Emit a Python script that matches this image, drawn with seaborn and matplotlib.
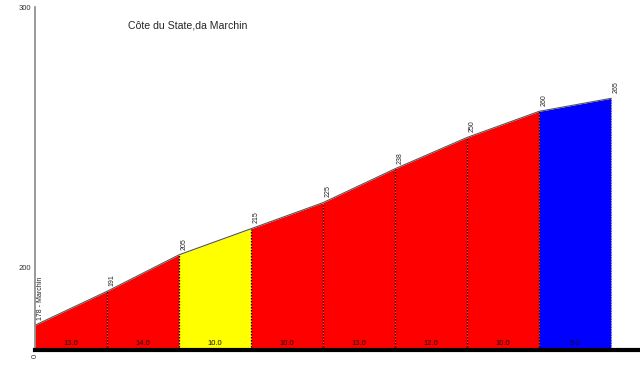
import matplotlib
matplotlib.use("Agg")
import matplotlib.pyplot as plt
import seaborn as sns
import pandas as pd

# profile data
distance_km = [0.0, 0.5, 1.0, 1.5, 2.0, 2.5, 3.0, 3.5, 4.0]
altitude_m = [178, 191, 205, 215, 225, 238, 250, 260, 265]
point_labels = ["178 - Marchin", "191", "205", "215", "225", "238", "250", "260", "265"]
gradient_labels = ["13.0", "14.0", "10.0", "10.0", "13.0", "12.0", "10.0", "5.0"]
segment_colors = ["#ff0000", "#ff0000", "#ffff00", "#ff0000", "#ff0000", "#ff0000", "#ff0000", "#0000ff"]

title = "Côte du State,da Marchin"

sns.set_style("white")
plt.rcParams["font.family"] = ["Liberation Sans", "DejaVu Sans"]

fig = plt.figure(figsize=(6.4, 3.79), dpi=100)
ax = fig.add_axes([35 / 640, 29 / 379, 605 / 640, 343 / 379])

ymin, ymax = 168.5, 300
df = pd.DataFrame({"km": distance_km, "alt": altitude_m})

# coloured segments
for i in range(len(distance_km) - 1):
    xs = distance_km[i:i + 2]
    ys = altitude_m[i:i + 2]
    ax.fill_between(xs, ys, ymin, color=segment_colors[i], linewidth=0)
    ax.text((xs[0] + xs[1]) / 2, ymin + 1.2, gradient_labels[i], ha="center",
            va="bottom", fontsize=5.5, color="#111111")

# dotted separators
for x, y in zip(distance_km[1:-1], altitude_m[1:-1]):
    ax.plot([x, x], [ymin, y], color="black", linestyle=(0, (1.2, 1.2)), linewidth=0.9)
ax.plot([distance_km[-1]] * 2, [ymin, altitude_m[-1]], color="#bbbbbb",
        linestyle=(0, (1.2, 1.2)), linewidth=0.8)

sns.lineplot(data=df, x="km", y="alt", ax=ax, color="#555555", linewidth=0.8)

# point labels
for x, y, lab in zip(distance_km, altitude_m, point_labels):
    ax.text(x + 0.012, y + 2, lab, rotation=90, ha="left", va="bottom",
            fontsize=5, color="#222222")

ax.set_xlim(0, 4.2)
ax.set_ylim(ymin, ymax)
ax.set_xlabel("")
ax.set_ylabel("")
ax.set_yticks([200, 300])
ax.set_yticklabels(["200", "300"], fontsize=5.5, color="#333333")
ax.set_xticks([0])
ax.set_xticklabels(["0"], rotation=90, fontsize=5.5, color="#333333")
ax.tick_params(axis="both", length=0, pad=3)

for s in ["top", "right"]:
    ax.spines[s].set_visible(False)
ax.spines["left"].set_color("#888888")
ax.spines["left"].set_linewidth(1.2)
ax.spines["bottom"].set_color("black")
ax.spines["bottom"].set_linewidth(3)

ax.text(0.153, 0.945, title, transform=ax.transAxes, fontsize=7.6, ha="left", va="center")

fig.savefig("out.png", dpi=100)
